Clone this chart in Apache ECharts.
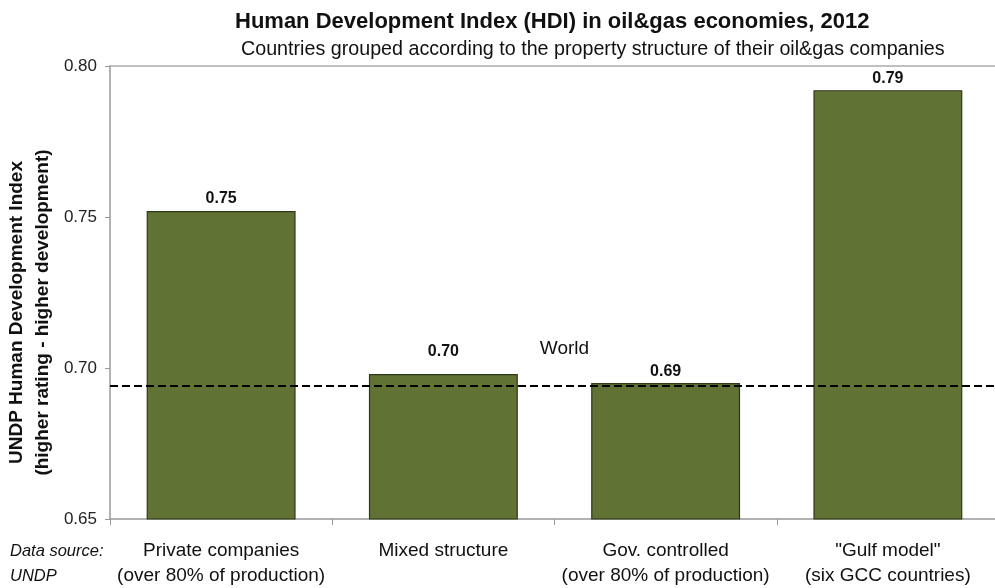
<!DOCTYPE html>
<html>
<head>
<meta charset="utf-8">
<script src="https://cdn.jsdelivr.net/npm/echarts@6/dist/echarts.min.js"></script>
<style>
html,body{margin:0;padding:0;background:#fff;}
#chart{width:995px;height:588px;}
</style>
</head>
<body>
<div id="chart"></div>
<script>
var categories = [
  'Private companies\n(over 80% of production)',
  'Mixed structure',
  'Gov. controlled\n(over 80% of production)',
  '"Gulf model"\n(six GCC countries)'
];
var hdiValues = [0.752, 0.698, 0.695, 0.792];
var worldHdi = 0.694;
var yTicks = [0.65, 0.70, 0.75, 0.80];

var FONT = '"Liberation Sans", Arial, sans-serif';
var chart = echarts.init(document.getElementById('chart'));
var barData = hdiValues.map(function (v, i) {
  var item = { value: v };
  if (i === 1) item.label = { distance: 14 };
  return item;
});
chart.setOption({
  backgroundColor: '#fff',
  animation: false,
  title: [
    { text: 'Human Development Index (HDI) in oil&gas economies, 2012', left: 230, top: 6,
      textStyle: { fontFamily: FONT, fontSize: 22, fontWeight: 'bold', color: '#111' } },
    { text: 'Countries grouped according to the property structure of their oil&gas companies', left: 236, top: 35,
      textStyle: { fontFamily: FONT, fontSize: 19.7, fontWeight: 'normal', color: '#111' } },
    { text: 'Data source:\nUNDP', left: 5, top: 534,
      textStyle: { fontFamily: FONT, fontSize: 16.5, fontStyle: 'italic', fontWeight: 'normal', color: '#111', lineHeight: 25 } }
  ],
  grid: { left: 110, top: 66, width: 889, height: 453, containLabel: false, outerBoundsMode: 'none' },
  xAxis: [{
    type: 'category',
    data: categories,
    axisLine: { show: true, lineStyle: { color: '#999', width: 1.5 } },
    axisTick: { show: true, length: 6, lineStyle: { color: '#999' } },
    axisLabel: { fontFamily: FONT, fontSize: 19, color: '#111', margin: 19, lineHeight: 25, interval: 0 }
  }, {
    type: 'category',
    position: 'top',
    data: categories,
    axisLine: { show: true, lineStyle: { color: '#aaa', width: 1.5 } },
    axisTick: { show: false },
    axisLabel: { show: false }
  }],
  yAxis: {
    type: 'value',
    min: yTicks[0],
    max: yTicks[yTicks.length - 1],
    interval: 0.05,
    name: 'UNDP Human Development Index\n(higher rating - higher development)',
    nameLocation: 'middle',
    nameRotate: 90,
    nameGap: 54,
    nameMoveOverlap: false,
    nameTextStyle: { fontFamily: FONT, fontSize: 19, fontWeight: 'bold', color: '#111', lineHeight: 26, padding: [0, 40, 0, 0] },
    axisLine: { show: true, lineStyle: { color: '#999', width: 1.5 } },
    axisTick: { show: true, length: 5, lineStyle: { color: '#999' } },
    splitLine: { show: false },
    axisLabel: { fontFamily: FONT, fontSize: 17, color: '#222', margin: 13,
      formatter: function (v) { return v.toFixed(2); } }
  },
  series: [{
    type: 'bar',
    data: barData,
    barWidth: '67%',
    itemStyle: { color: '#607234', borderColor: '#2e3818', borderWidth: 1.2 },
    label: { show: true, position: 'top', distance: 4, fontFamily: FONT, fontSize: 16, fontWeight: 'bold', color: '#111',
      formatter: function (p) { return p.value.toFixed(2); } },
    markLine: {
      silent: true,
      symbol: 'none',
      precision: 3,
      lineStyle: { color: '#000', type: [8, 4], width: 2 },
      label: { show: true, position: 'insideMiddleTop', formatter: 'World', distance: 28, padding: [0, 0, 0, 20],
        fontFamily: FONT, fontSize: 19, color: '#111' },
      data: [{ yAxis: worldHdi }]
    }
  }]
});
</script>
</body>
</html>
